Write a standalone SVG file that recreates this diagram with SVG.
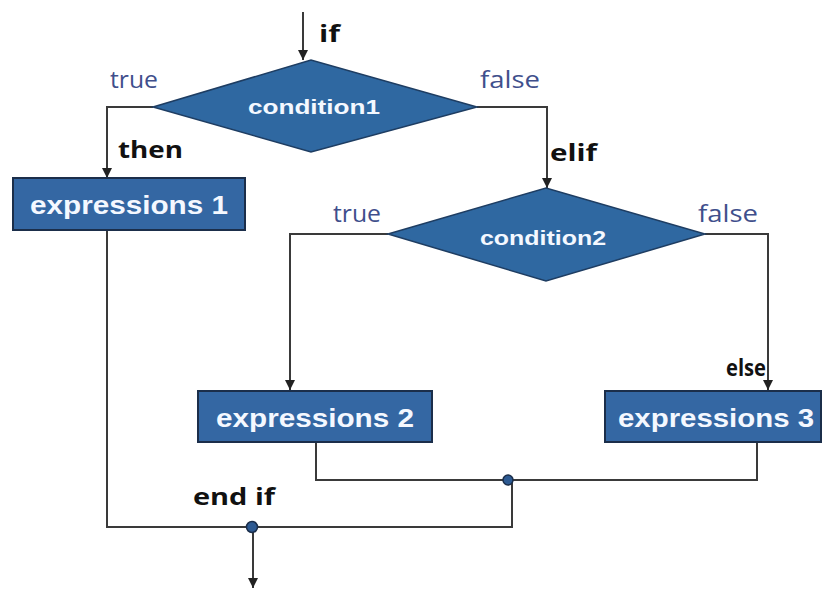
<svg xmlns="http://www.w3.org/2000/svg" width="829" height="590" viewBox="0 0 829 590">
<defs>
<marker id="arr" viewBox="0 0 10 10" refX="10" refY="5" markerWidth="10" markerHeight="10" markerUnits="userSpaceOnUse" orient="auto">
<path d="M0,0 L10,5 L0,10 z" fill="#222"/>
</marker>
</defs>
<style>
.ln{fill:none;stroke:#3a3a3a;stroke-width:2}
.dia{fill:#2f68a1;stroke:#1e3d62;stroke-width:1.5}
.box{fill:#3467a3;stroke:#1b2e4a;stroke-width:2}
.wt{fill:#f4f8ff;font-family:"Liberation Sans",Arial,sans-serif;font-weight:bold;text-anchor:middle}
.kw{fill:#111;font-family:"Open Sans","Liberation Sans",sans-serif;font-weight:bold;font-size:24px}
.tf{fill:#3f4f8c;font-family:"Open Sans","Liberation Sans",sans-serif;font-size:23px}
.dot{fill:#2d5a92;stroke:#1b2e4a;stroke-width:1.5}
</style>
<rect width="829" height="590" fill="#ffffff"/>
<g id="connectors">
<path class="ln" d="M303,12 V60" marker-end="url(#arr)"/>
<path class="ln" d="M153,107 H107 V178" marker-end="url(#arr)"/>
<path class="ln" d="M477,107 H547 V188" marker-end="url(#arr)"/>
<path class="ln" d="M388,234 H290 V390" marker-end="url(#arr)"/>
<path class="ln" d="M705,234 H768 V390" marker-end="url(#arr)"/>
<path class="ln" d="M316,442 V480 H757 V442"/>
<path class="ln" d="M107,230 V527 H512 V480"/>
<path class="ln" d="M253,527 V588" marker-end="url(#arr)"/>
<circle class="dot" cx="508" cy="480" r="5"/>
<circle class="dot" cx="252" cy="527" r="5.5"/>
</g>
<g id="labels">
<text class="kw" x="319" y="42" textLength="21" lengthAdjust="spacingAndGlyphs">if</text>
<text class="tf" x="110" y="88" textLength="48" lengthAdjust="spacingAndGlyphs">true</text>
<text class="tf" x="480" y="88" textLength="60" lengthAdjust="spacingAndGlyphs">false</text>
<text class="kw" x="118" y="158" textLength="65" lengthAdjust="spacingAndGlyphs">then</text>
<text class="kw" x="550" y="161" textLength="47" lengthAdjust="spacingAndGlyphs">elif</text>
<text class="tf" x="333" y="222" textLength="48" lengthAdjust="spacingAndGlyphs">true</text>
<text class="tf" x="698" y="222" textLength="60" lengthAdjust="spacingAndGlyphs">false</text>
<text class="kw" x="726" y="376" textLength="40" lengthAdjust="spacingAndGlyphs">else</text>
<text class="kw" x="193" y="505" textLength="82" lengthAdjust="spacingAndGlyphs">end if</text>
</g>
<g id="condition1">
<polygon class="dia" points="153,107 311,60 477,107 311,152"/>
<text class="wt" x="314" y="114" font-size="20" textLength="132" lengthAdjust="spacingAndGlyphs">condition1</text>
</g>
<g id="expressions1">
<rect class="box" x="13" y="178" width="232" height="52"/>
<text class="wt" x="129" y="214" font-size="25" textLength="198" lengthAdjust="spacingAndGlyphs">expressions 1</text>
</g>
<g id="condition2">
<polygon class="dia" points="388,234 546,188 705,234 546,281"/>
<text class="wt" x="543" y="245" font-size="20" textLength="126" lengthAdjust="spacingAndGlyphs">condition2</text>
</g>
<g id="expressions2">
<rect class="box" x="198" y="391" width="234" height="51"/>
<text class="wt" x="315" y="427" font-size="25" textLength="198" lengthAdjust="spacingAndGlyphs">expressions 2</text>
</g>
<g id="expressions3">
<rect class="box" x="605" y="391" width="216" height="51"/>
<text class="wt" x="716" y="427" font-size="25" textLength="196" lengthAdjust="spacingAndGlyphs">expressions 3</text>
</g>
</svg>
